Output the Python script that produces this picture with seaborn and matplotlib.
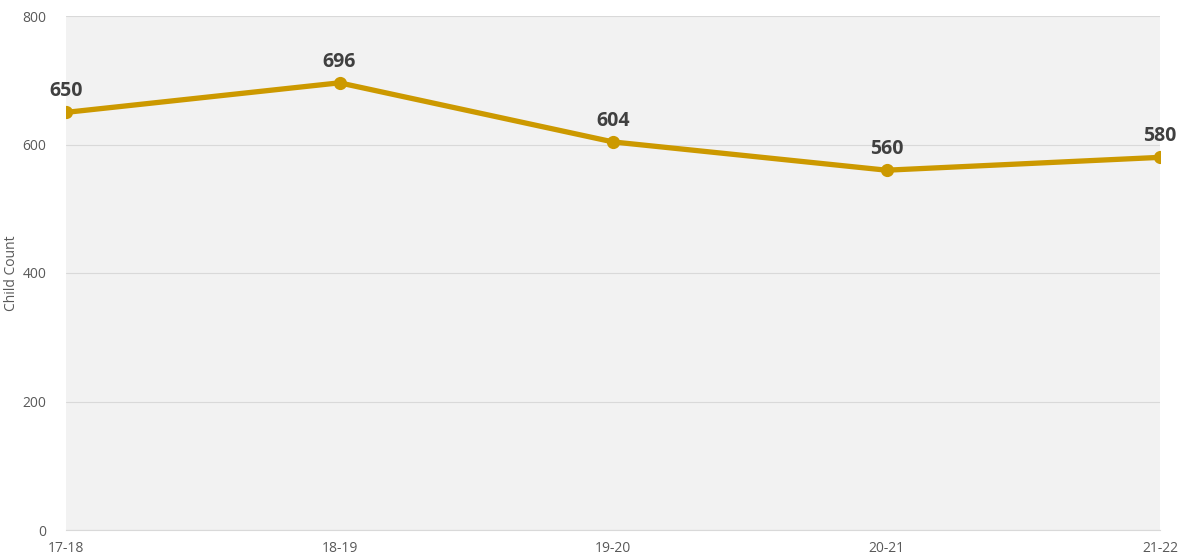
import matplotlib
matplotlib.use("Agg")
from matplotlib import pyplot as plt
import seaborn as sns
import pandas as pd

periods = ["17-18", "18-19", "19-20", "20-21", "21-22"]
child_counts = [650, 696, 604, 560, 580]

sns.set_style("white")
plt.rcParams["font.family"] = ["Open Sans", "DejaVu Sans"]

df = pd.DataFrame({"period": periods, "count": child_counts})

fig = plt.figure(figsize=(11.83, 5.6), dpi=100)
ax = fig.add_axes([66 / 1183, 30 / 560, (1160 - 66) / 1183, (530 - 16) / 560])
ax.set_facecolor("#f2f2f2")

sns.lineplot(
    data=df,
    x="period",
    y="count",
    sort=False,
    color="#cc9900",
    linewidth=3.8,
    marker="o",
    markersize=9.5,
    markeredgewidth=0,
    ax=ax,
    zorder=3,
)

for i, v in enumerate(child_counts):
    ax.annotate(str(v), (i, v), xytext=(0, 8), textcoords="offset points",
                ha="center", va="bottom", fontsize=14, fontweight="bold",
                color="#404040", zorder=4, annotation_clip=False)

ax.set_xlim(0, len(periods) - 1)
ax.set_ylim(0, 800)
ax.set_yticks([0, 200, 400, 600, 800])
ax.yaxis.grid(True, color="#d9d9d9", linewidth=0.8)
ax.set_axisbelow(True)
for side in ["top", "right", "left"]:
    ax.spines[side].set_visible(False)
ax.spines["bottom"].set_color("#d9d9d9")
ax.tick_params(axis="x", length=5, color="#d9d9d9", labelsize=10,
               labelcolor="#595959", pad=3)
ax.tick_params(axis="y", length=0, labelsize=10, labelcolor="#595959", pad=14)
ax.set_xlabel("")
ax.set_ylabel("Child Count", fontsize=10, color="#595959")
ax.yaxis.set_label_coords(-0.043, 0.5)

fig.savefig("out.png", dpi=100)
